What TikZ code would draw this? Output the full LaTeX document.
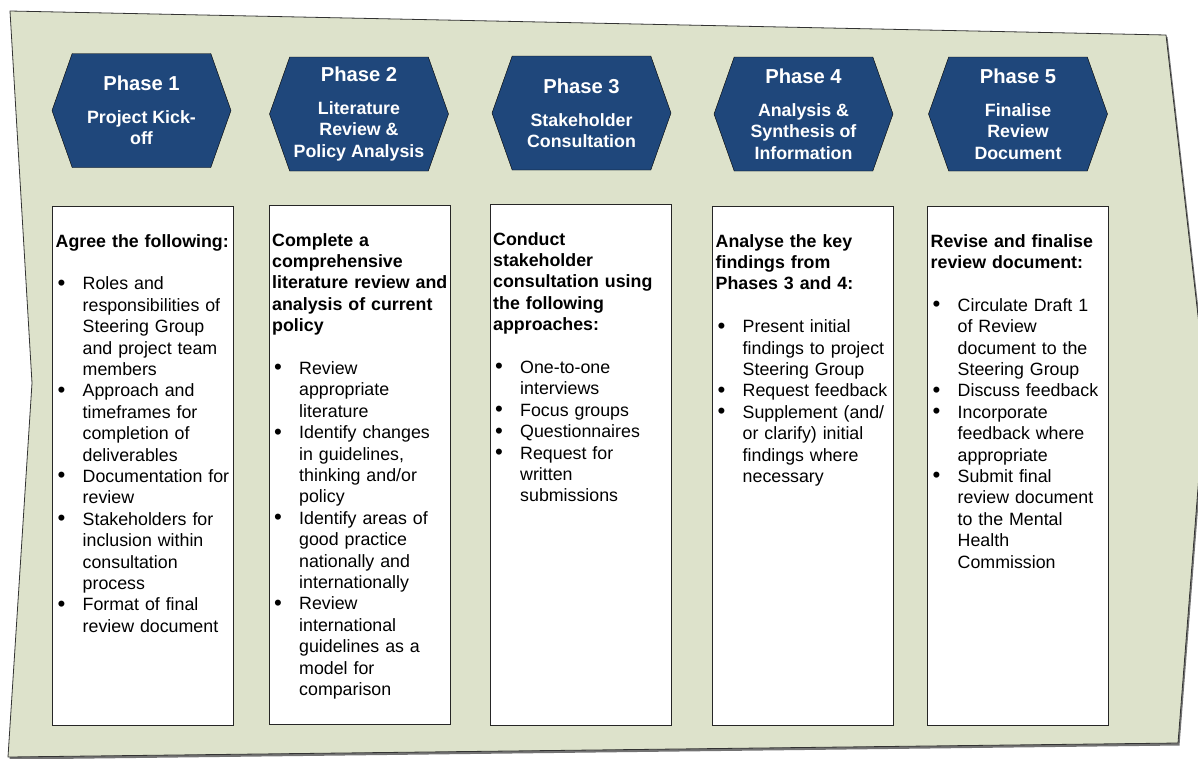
\documentclass[tikz,border=0pt]{standalone}
\usepackage{fontspec}
\setmainfont{Liberation Sans}
\usetikzlibrary{positioning, shapes.symbols}

\definecolor{phaseblue}{HTML}{1F477B}
\definecolor{panelgreen}{HTML}{DDE2CB}

\newcommand{\phead}[1]{\noindent{\bfseries #1\par}\vspace{21.4pt}}
\newcommand{\pitem}[1]{\par\hangindent=27pt\hangafter=1\noindent\makebox[27pt][l]{\hspace{2pt}\smash{\raisebox{-0.4pt}{\scalebox{1.25}{\textbullet}}}}#1\par}

\begin{document}
\begin{tikzpicture}[x=1pt, y=-1pt]

\tikzset{phase/.style = {signal, signal to=west and east, signal pointer angle=141, draw=black, fill=phaseblue, text=white, minimum width=179pt, minimum height=114pt, inner sep=0pt, align=center, font=\bfseries\fontsize{17.8}{21.4}\selectfont}}
\tikzset{stepbox/.style = {draw=black!85, fill=white, anchor=north west, minimum width=181pt, minimum height=519pt, inner sep=0pt}}
\tikzset{boxtext/.style = {text width=200pt, inner sep=0pt, align=left, font=\fontsize{17.8}{21.4}\selectfont}}
\useasboundingbox (0,0) rectangle (1198,758);
%background arrow
\fill[black!55] (11.5,13) -- (1167.5,37) -- (1207.5,388) -- (1179.5,745.5) -- (9.5,759.5) -- (33.5,385) -- cycle;
\filldraw[fill=panelgreen, draw=black!80, line width=0.8pt] (10,11) -- (1166,35) -- (1206,386) -- (1178,743) -- (8,757) -- (32,383) -- cycle;
%phases
\node[phase] (ph1) at (141.5,110.5) {{\fontsize{20.2}{21.4}\selectfont Phase 1}\\[11.6pt]Project Kick-\\off};
\node[phase] (ph2) at (359,114) {{\fontsize{20.2}{21.4}\selectfont Phase 2}\\[11.6pt]Literature\\Review \&\\Policy Analysis};
\node[phase] (ph3) at (581.5,113) {{\fontsize{20.2}{21.4}\selectfont Phase 3}\\[11.6pt]Stakeholder\\Consultation};
\node[phase] (ph4) at (803.5,114) {{\fontsize{20.2}{21.4}\selectfont Phase 4}\\[11.6pt]Analysis \&\\Synthesis of\\Information};
\node[phase] (ph5) at (1018,114) {{\fontsize{20.2}{21.4}\selectfont Phase 5}\\[11.6pt]Finalise\\Review\\Document};
%boxes
\node[stepbox] (box1) at (52,206) {};
\node[stepbox] (box2) at (268.5,205) {};
\node[stepbox, minimum height=521pt] (box3) at (489.5,204) {};
\node[stepbox] (box4) at (712,206) {};
\node[stepbox] (box5) at (927,206) {};
%texts
\node[boxtext, below right=28pt and 3.5pt of box1.north west] (txt1) {%
\phead{Agree the following:}
\pitem{Roles and\newline responsibilities of\newline Steering Group\newline and project team\newline members}
\pitem{Approach and\newline timeframes for\newline completion of\newline deliverables}
\pitem{Documentation for\newline review}
\pitem{Stakeholders for\newline inclusion within\newline consultation\newline process}
\pitem{Format of final\newline review document}};
\node[boxtext, below right=28pt and 3.5pt of box2.north west] (txt2) {%
\phead{Complete a\newline comprehensive\newline literature review and\newline analysis of current\newline policy}
\pitem{Review\newline appropriate\newline literature}
\pitem{Identify changes\newline in guidelines,\newline thinking and/or\newline policy}
\pitem{Identify areas of\newline good practice\newline nationally and\newline internationally}
\pitem{Review\newline international\newline guidelines as a\newline model for\newline comparison}};
\node[boxtext, below right=28pt and 3.5pt of box3.north west] (txt3) {%
\phead{Conduct\newline stakeholder\newline consultation using\newline the following\newline approaches:}
\pitem{One-to-one\newline interviews}
\pitem{Focus groups}
\pitem{Questionnaires}
\pitem{Request for\newline written\newline submissions}};
\node[boxtext, below right=28pt and 3.5pt of box4.north west] (txt4) {%
\phead{Analyse the key\newline findings from\newline Phases 3 and 4:}
\pitem{Present initial\newline findings to project\newline Steering Group}
\pitem{Request feedback}
\pitem{Supplement (and/\newline or clarify) initial\newline findings where\newline necessary}};
\node[boxtext, below right=28pt and 3.5pt of box5.north west] (txt5) {%
\phead{Revise and finalise\newline review document:}
\pitem{Circulate Draft 1\newline of Review\newline document to the\newline Steering Group}
\pitem{Discuss feedback}
\pitem{Incorporate\newline feedback where\newline appropriate}
\pitem{Submit final\newline review document\newline to the Mental\newline Health\newline Commission}};

\end{tikzpicture}
\end{document}
